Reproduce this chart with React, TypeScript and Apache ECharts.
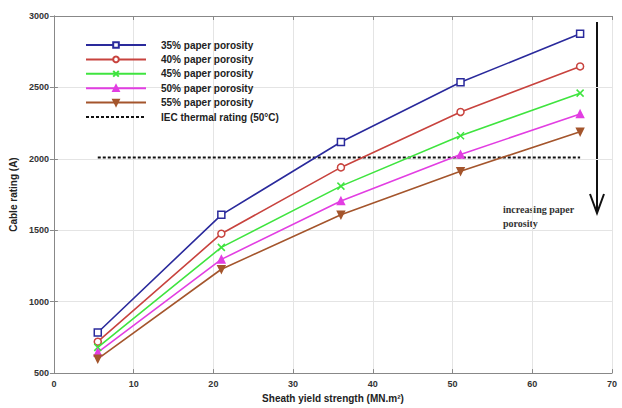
import React, { useEffect, useRef } from "react";
import * as echarts from "echarts";

const xValues = [5.5, 21, 36, 51, 66];
const p35 = [784, 1608, 2118, 2536, 2875];
const p40 = [720, 1476, 1940, 2328, 2647];
const p45 = [680, 1380, 1809, 2162, 2460];
const p50 = [645, 1296, 1705, 2030, 2314];
const p55 = [600, 1227, 1608, 1913, 2190];
const iecX = [5.5, 66];
const iecRating = 2010;
const seriesNames = [
  "35% paper porosity",
  "40% paper porosity",
  "45% paper porosity",
  "50% paper porosity",
  "55% paper porosity",
];
const iecName = "IEC thermal rating (50°C)";

export default function App() {
  const ref = useRef<HTMLDivElement>(null);
  useEffect(() => {
    if (!ref.current) return;
    const chart = echarts.init(ref.current, null, { renderer: "svg" });
    const colors = ["#2a2a9c", "#c8433e", "#3fe43f", "#e23ee2", "#a4552c"];
    const symbols = [
      "rect",
      "circle",
      "path://M0,0L10,10M10,0L0,10",
      "triangle",
      "triangle",
    ];
    const data = [p35, p40, p45, p50, p55];
    const mk = (i: number) => ({
      name: seriesNames[i],
      type: "line",
      data: xValues.map((x, j) => [x, data[i][j]]),
      symbol: symbols[i],
      symbolSize: 7,
      symbolRotate: i === 4 ? 180 : 0,
      showAllSymbol: true,
      lineStyle: { color: colors[i], width: 1.6 },
      itemStyle: {
        color: i >= 3 ? colors[i] : "#ffffff",
        borderColor: colors[i],
        borderWidth: 1.5,
      },
      z: 3,
    });
    const labelStyle = {
      color: "#333",
      fontSize: 9,
      fontWeight: "bold" as const,
      fontFamily: "Liberation Sans, Arial, sans-serif",
    };
    const axisColor = "#888";
    chart.setOption({
      animation: false,
      backgroundColor: "#ffffff",
      grid: { left: 52, right: 10, top: 16, bottom: 31, containLabel: false },
      legend: {
        orient: "vertical",
        left: 80,
        top: 35,
        itemWidth: 60,
        itemHeight: 7,
        itemGap: 4.4,
        data: [...seriesNames, iecName],
        textStyle: {
          color: "#222",
          fontSize: 10,
          fontWeight: "bold",
          fontFamily: "Liberation Sans, Arial, sans-serif",
          padding: [0, 0, 0, 10],
        },
      },
      xAxis: [
        {
          type: "value",
          min: 0,
          max: 70,
          interval: 10,
          name: "Sheath yield strength (MN.m²)",
          nameLocation: "middle",
          nameGap: 19,
          nameTextStyle: {
            color: "#222",
            fontSize: 10,
            fontWeight: "bold",
            fontFamily: "Liberation Sans, Arial, sans-serif",
          },
          axisLine: { lineStyle: { color: axisColor } },
          axisTick: { inside: true, length: 4, lineStyle: { color: axisColor } },
          axisLabel: { ...labelStyle, margin: 6 },
          splitLine: { show: true, lineStyle: { color: "#e4e4e4" } },
        },
        {
          type: "value",
          position: "top",
          min: 0,
          max: 70,
          interval: 10,
          axisLine: { show: true, lineStyle: { color: axisColor } },
          axisTick: { show: true, inside: true, length: 4, lineStyle: { color: axisColor } },
          axisLabel: { show: false },
          splitLine: { show: false },
        },
      ],
      yAxis: [
        {
          type: "value",
          min: 500,
          max: 3000,
          interval: 500,
          name: "Cable rating (A)",
          nameLocation: "middle",
          nameGap: 25,
          nameTextStyle: {
            color: "#222",
            fontSize: 10,
            fontWeight: "bold",
            fontFamily: "Liberation Sans, Arial, sans-serif",
          },
          axisLine: { show: true, lineStyle: { color: axisColor } },
          axisTick: { show: true, inside: true, length: 4, lineStyle: { color: axisColor } },
          axisLabel: { ...labelStyle, margin: 5, formatter: (v: number) => String(v) },
          splitLine: { show: true, lineStyle: { color: "#e4e4e4" } },
        },
        {
          type: "value",
          position: "right",
          min: 500,
          max: 3000,
          interval: 500,
          axisLine: { show: true, lineStyle: { color: axisColor } },
          axisTick: { show: true, inside: true, length: 4, lineStyle: { color: axisColor } },
          axisLabel: { show: false },
          splitLine: { show: false },
        },
      ],
      series: [
        mk(0),
        mk(1),
        mk(2),
        mk(3),
        mk(4),
        {
          name: iecName,
          type: "line",
          data: iecX.map((x) => [x, iecRating]),
          symbol: "none",
          lineStyle: { color: "#111", width: 2, type: [3, 2] },
          itemStyle: { color: "rgba(0,0,0,0)", borderColor: "rgba(0,0,0,0)", borderWidth: 0 },
          z: 2,
        },
      ],
      graphic: [
        {
          type: "line",
          shape: { x1: 597, y1: 22, x2: 597, y2: 212 },
          style: { stroke: "#111", lineWidth: 2 },
        },
        {
          type: "polyline",
          shape: { points: [[590, 194], [597, 213], [604, 194]] },
          style: { stroke: "#111", lineWidth: 2, fill: "none" },
        },
        {
          type: "text",
          left: 503,
          top: 202,
          style: {
            text: "increasing paper\nporosity",
            fill: "#333",
            font: "bold 10px 'Liberation Serif', 'DejaVu Serif', serif",
            lineHeight: 14,
          },
        },
      ],
    });
    return () => chart.dispose();
  }, []);
  return <div ref={ref} style={{ width: 622, height: 408, position: "absolute", left: 0, top: 0 }} />;
}
